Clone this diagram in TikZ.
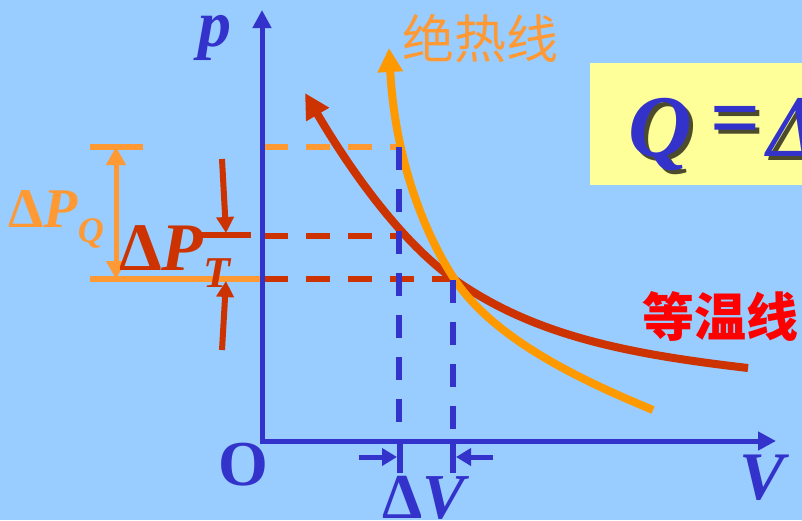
\documentclass[tikz,border=0pt]{standalone}
\usepackage{fontspec}
\setmainfont{Liberation Serif}
\newfontfamily\cjk{Noto Sans CJK SC}
\usetikzlibrary{arrows.meta}
\definecolor{bg}{HTML}{99CCFF}
\definecolor{axisblue}{HTML}{3333CC}
\definecolor{brick}{HTML}{CC3300}
\definecolor{adiab}{HTML}{FF9900}
\definecolor{lorange}{HTML}{FF9933}
\definecolor{boxyellow}{HTML}{FFFF99}
\definecolor{isored}{HTML}{FF0000}
\begin{document}
\begin{tikzpicture}[x=1pt,y=-1pt,
  axisline/.style={draw=axisblue,line width=5pt,line join=miter},
  dashline/.style={line width=6pt,dash pattern=on 24pt off 18pt},
  vdash/.style={draw=axisblue,line width=6pt,dash pattern=on 23pt off 19pt},
  curve/.style={line width=8pt},
  label/.style={inner sep=0pt,anchor=base},
  smallarrow/.style={line width=6pt,-{Triangle[length=16pt,width=17pt]}}
]
\useasboundingbox (0,0) rectangle (802,520);
\clip (0,0) rectangle (802,520);
\fill[bg] (0,0) rectangle (802,520);

% yellow formula box
\fill[boxyellow] (590,63) rectangle (810,185);
\node[label,anchor=base west,text=black,opacity=.7] (qs) at (632,160) {\fontsize{88}{88}\selectfont\bfseries\itshape Q};
\node[label,anchor=base west,text=axisblue] (q) at (628,156) {\fontsize{88}{88}\selectfont\bfseries\itshape Q};
\node[inner sep=0pt,text=black,opacity=.7] (eqs) at (740,130.5) {\fontsize{88}{88}\selectfont\bfseries =};
\node[inner sep=0pt,text=axisblue] (eq) at (736,126.5) {\fontsize{88}{88}\selectfont\bfseries =};
\node[label,anchor=base west,text=black,opacity=.7] (ds) at (771,160) {\fontsize{88}{88}\selectfont\bfseries\itshape Δ};
\node[label,anchor=base west,text=axisblue] (d) at (767,156) {\fontsize{88}{88}\selectfont\bfseries\itshape Δ};

% horizontal dashed guides
\draw[dashline,draw=lorange] (264,147) -- (402,147);
\draw[dashline,draw=brick] (264,236) -- (402,236);
\draw[dashline,draw=brick] (264,279) -- (455,279);

% left markers
\draw[line width=6pt,draw=lorange] (90,147) -- (143,147);
\draw[line width=6pt,draw=lorange] (90,279) -- (262,279);
\draw[line width=6pt,draw=brick] (200,235) -- (251,235);
\coordinate (qtop) at (116,147);
\coordinate (qbot) at (116,279);
\draw[line width=5pt,draw=lorange,{Triangle[length=18pt,width=19pt]}-{Triangle[length=18pt,width=19pt]}] (qtop) -- (qbot);
\coordinate (ta) at (222,159);
\coordinate (tb) at (226,233);
\coordinate (tc) at (222,350);
\coordinate (td) at (226,281);
\draw[smallarrow,draw=brick,fill=brick] (ta) -- (tb);
\draw[smallarrow,draw=brick,fill=brick] (tc) -- (td);

% curves
\coordinate (meet) at (455,280);
\draw[curve,draw=brick,-{Triangle[length=25pt,width=25pt]}] (748,368) .. controls (628,354) and (535,336) .. (meet) .. controls (405,245) and (355,178) .. (305,93);
\draw[curve,draw=adiab,-{Triangle[length=24pt,width=24pt]}] (653,410) .. controls (583,381) and (495,340) .. (meet) .. controls (425,235) and (395,160) .. (389,48);

% vertical dashed guides
\draw[vdash] (399,147) -- (399,441);
\draw[vdash] (453,280) -- (453,441);

% axes
\draw[axisline,{Triangle[length=18pt,width=18pt]}-{Triangle[length=18pt,width=18pt]}] (262,10) -- (262,441) -- (776,441);

% delta V markers
\draw[line width=6pt,draw=axisblue] (400,441) -- (400,473);
\draw[line width=6pt,draw=axisblue] (453,441) -- (453,473);
\coordinate (la) at (359,457);
\coordinate (lb) at (397,457);
\coordinate (ra) at (493,457);
\coordinate (rb) at (456,457);
\draw[line width=5pt,draw=axisblue,-{Triangle[length=15pt,width=17pt]}] (la) -- (lb);
\draw[line width=5pt,draw=axisblue,-{Triangle[length=15pt,width=17pt]}] (ra) -- (rb);

% labels
\node[label,text=axisblue] (p) at (215,46) {\fontsize{66}{66}\selectfont\bfseries\itshape p};
\node[label,text=axisblue] (o) at (243,485) {\fontsize{64}{64}\selectfont\bfseries O};
\node[label,text=axisblue] (v) at (762,499) {\fontsize{68}{68}\selectfont\bfseries\itshape V};
\node[label,text=axisblue] (dv) at (426,518) {\fontsize{64}{64}\selectfont\bfseries Δ\textit{V}};
\node[label,anchor=base west,text=lorange] (dpq) at (8,227) {\fontsize{56}{56}\selectfont\bfseries Δ\textit{P}\raisebox{-15pt}{\fontsize{36}{36}\selectfont\textit{Q}}};
\node[label,anchor=base west,text=brick] (dpt) at (119,270) {\fontsize{68}{68}\selectfont\bfseries Δ\textit{P}\raisebox{-17pt}{\fontsize{44}{44}\selectfont\textit{T}}};
\node[label,text=lorange] (adlabel) at (480,58) {\fontsize{52}{52}\selectfont\cjk 绝热线};
\node[label,text=isored] (isolabel) at (720,336) {\fontsize{52}{52}\selectfont\cjk\bfseries 等温线};
\end{tikzpicture}
\end{document}
